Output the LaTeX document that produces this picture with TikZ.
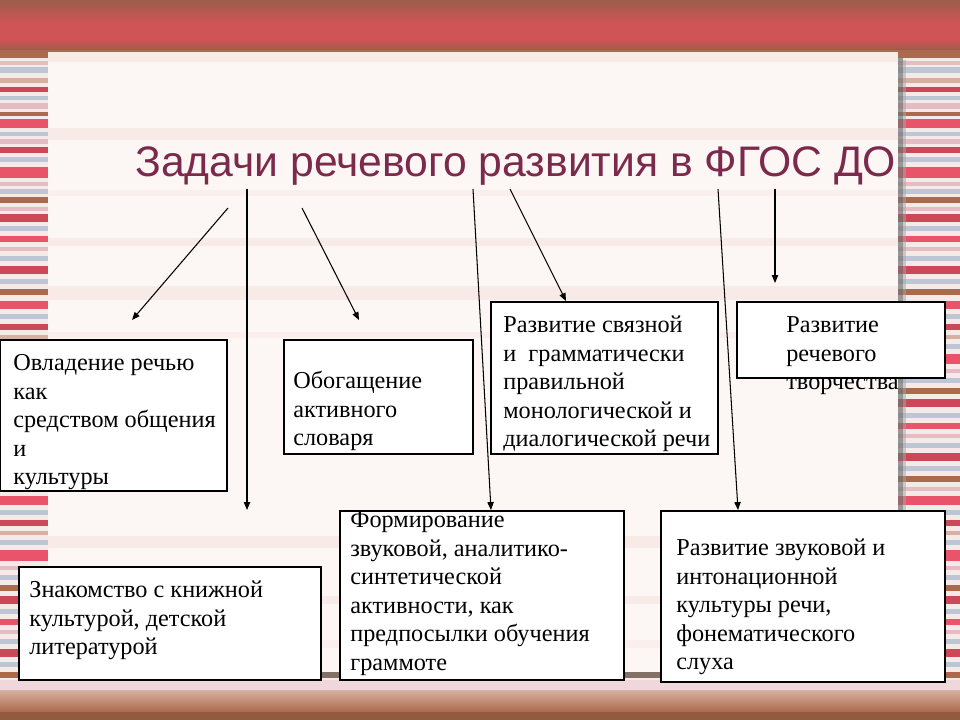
\documentclass[tikz,border=0pt]{standalone}
\usepackage{fontspec}
\setmainfont{Liberation Serif}
\newfontfamily\titlefont{Liberation Sans}
\usetikzlibrary{arrows.meta}

\definecolor{titlered}{RGB}{124,42,76}
\definecolor{bandred}{RGB}{206,84,86}
\definecolor{bandbrn}{RGB}{156,92,74}
\definecolor{brn}{RGB}{172,106,76}
\definecolor{red}{RGB}{204,72,88}
\definecolor{hot}{RGB}{232,84,106}
\definecolor{pnk}{RGB}{230,188,196}
\definecolor{blu}{RGB}{190,198,214}
\definecolor{tan}{RGB}{214,176,160}
\definecolor{stripebase}{RGB}{244,234,232}
\definecolor{panel}{RGB}{252,247,245}
\definecolor{panelstripe}{RGB}{248,234,231}

\tikzset{
	box/.style={draw=black, line width=0.6pt, fill=white},
	boxtext/.style={anchor=north west, inner sep=0pt, align=left, font=\fontsize{13.8}{16.3}\selectfont},
	arr/.style={line width=0.6pt, -{Triangle[length=4.5pt,width=3.6pt]}}
}

\begin{document}
\begin{tikzpicture}[x=0.2mm, y=-0.2mm]
			%%%%% BACKGROUND %%%%%
			\useasboundingbox (0, 0) rectangle (960, 720);
			\fill[stripebase] (0, 0) rectangle (960, 720);
			
			\foreach \y/\h/\c in {50/8/brn, 61/4/pnk, 67/6/blu, 78/5/tan, 87/5/red, 96/4/blu,
				103/6/pnk, 112/4/brn, 119/9/hot, 132/4/blu, 139/5/pnk, 147/6/red, 157/5/blu,
				167/11/hot, 182/4/pnk, 189/5/blu, 197/6/brn, 207/4/pnk, 214/8/red, 226/5/blu,
				236/6/hot, 247/4/pnk, 256/5/blu, 266/8/red, 279/5/blu, 289/6/brn, 301/8/hot,
				314/5/blu, 324/6/red, 335/4/tan, 344/5/blu, 354/10/hot, 369/4/pnk, 378/5/blu,
				388/6/brn, 399/8/red, 413/5/blu, 423/6/hot, 434/4/pnk, 443/5/blu, 453/8/red,
				466/5/blu, 476/6/brn, 487/4/pnk, 496/9/hot, 510/5/blu, 520/6/red, 531/4/tan,
				540/5/blu, 550/11/hot, 566/4/pnk, 575/5/blu, 585/6/brn, 596/8/red, 609/5/blu,
				619/6/hot, 630/4/pnk, 639/5/blu, 649/8/red, 662/5/blu, 672/6/brn}
				\fill[\c] (0, \y) rectangle (960, \y+\h);
			
			\shade[top color=bandbrn, bottom color=bandred] (0, 0) rectangle (960, 22);
			\fill[bandred] (0, 22) rectangle (960, 40);
			\shade[top color=bandred, bottom color=bandbrn] (0, 40) rectangle (960, 50);
			
			\fill[pnk!60] (0, 680) rectangle (960, 690);
			\shade[top color=tan, bottom color=brn] (0, 690) rectangle (960, 712);
			\fill[brn!85!black] (0, 712) rectangle (960, 720);
			
			% panel with shadow
			\fill[black!55, opacity=0.7] (898, 58) rectangle (903, 678);
			\fill[black!35, opacity=0.5] (903, 60) rectangle (906, 678);
			\fill[black!55, opacity=0.7] (52, 672) rectangle (903, 678);
			\fill[panel] (48, 52) rectangle (898, 672);
			\fill[panelstripe] (48, 52) rectangle (898, 62);
			\fill[panelstripe] (48, 128) rectangle (898, 140);
			\fill[panelstripe!60!panel] (48, 190) rectangle (898, 196);
			\fill[panelstripe] (48, 238) rectangle (898, 246);
			\fill[panelstripe] (48, 286) rectangle (898, 300);
			\fill[panelstripe!60!panel] (48, 332) rectangle (898, 338);
			\fill[panelstripe] (48, 536) rectangle (898, 548);
			\fill[panelstripe] (48, 596) rectangle (898, 604);
			\fill[panelstripe!60!panel] (48, 640) rectangle (898, 648);
			
			%%%%% START %%%%%
			
			\node[anchor=base west, inner sep=0pt, text=titlered, font=\titlefont\fontsize{24.3}{28}\selectfont] (title) at (135, 177) {Задачи речевого развития в ФГОС ДО};
			
			\draw[box] (0, 340) rectangle (227, 491);
			\node[boxtext] (speech) at (13, 350) {\strut Овладение речью\\как\\средством общения\\и\\культуры};
			
			\draw[box] (284, 340) rectangle (473, 454);
			\node[boxtext] (vocab) at (293, 368) {\strut Обогащение\\активного\\словаря};
			
			\draw[box] (491, 302) rectangle (718, 454);
			\node[boxtext] (coherent) at (503, 312) {\strut Развитие связной\\и~ грамматически\\правильной\\монологической и\\диалогической речи};
			
			\draw[box] (737, 302) rectangle (945, 378);
			\node[boxtext] (creative) at (786, 312) {\strut Развитие\\речевого\\творчества};
			
			\draw[box] (19, 567) rectangle (321, 680);
			\node[boxtext] (books) at (29, 577) {\strut Знакомство с книжной\\культурой, детской\\литературой};
			
			\draw[box] (340, 511) rectangle (624, 680);
			\node[boxtext] (analytic) at (350, 507) {\strut Формирование\\звуковой, аналитико-\\синтетической\\активности, как\\предпосылки обучения\\граммоте};
			
			\draw[box] (661, 511) rectangle (945, 682);
			\node[boxtext] (sound) at (676, 535) {\strut Развитие звуковой и\\интонационной\\культуры речи,\\фонематического\\слуха};
			
			% arrow ends
			\coordinate (a1s) at (228, 208); \coordinate (a1e) at (132, 320);
			\coordinate (a2s) at (247, 189); \coordinate (a2e) at (247, 510);
			\coordinate (a3s) at (302, 208); \coordinate (a3e) at (359, 320);
			\coordinate (a4s) at (473, 189); \coordinate (a4e) at (491, 510);
			\coordinate (a5s) at (510, 189); \coordinate (a5e) at (566, 301);
			\coordinate (a6s) at (718, 189); \coordinate (a6e) at (738, 510);
			\coordinate (a7s) at (775, 189); \coordinate (a7e) at (775, 283);
			
			\draw[arr] (a1s) -- (a1e);
			\draw[arr] (a2s) -- (a2e);
			\draw[arr] (a3s) -- (a3e);
			\draw[arr] (a4s) -- (a4e);
			\draw[arr] (a5s) -- (a5e);
			\draw[arr] (a6s) -- (a6e);
			\draw[arr] (a7s) -- (a7e);
			
			%%%%% END %%%%%
\end{tikzpicture}
\end{document}
